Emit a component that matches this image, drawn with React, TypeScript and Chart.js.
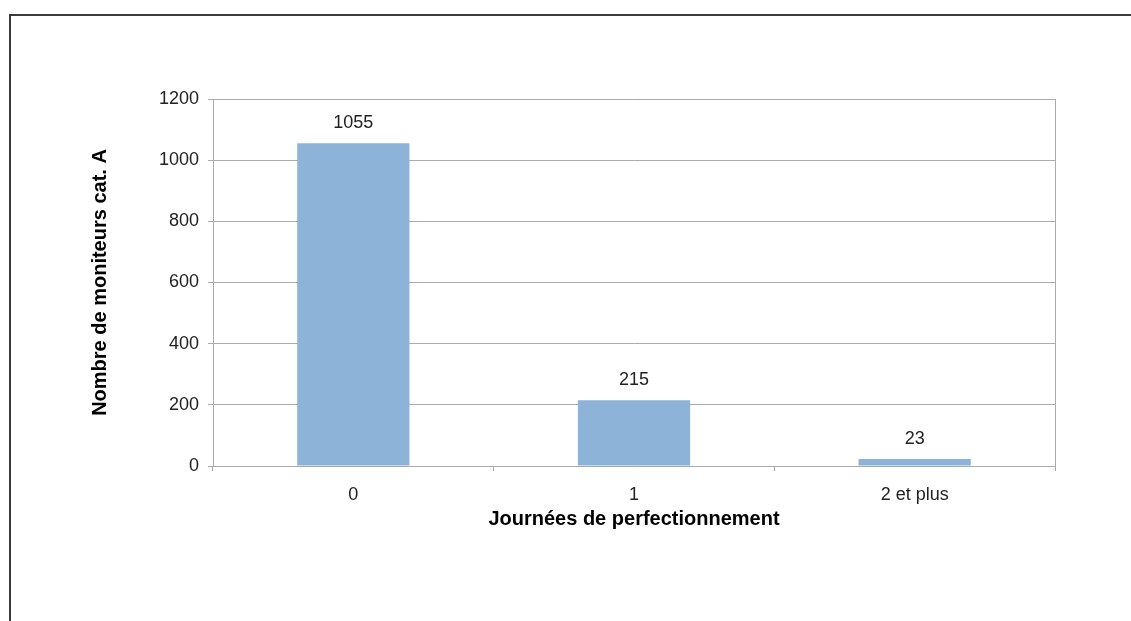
import React, { useEffect, useRef } from "react";
import { Chart, registerables } from "chart.js";

Chart.register(...registerables);

const categories: string[] = ["0", "1", "2 et plus"];
const values: number[] = [1055, 215, 23];
const yTicks: number[] = [0, 200, 400, 600, 800, 1000, 1200];
const yTitle = "Nombre de moniteurs cat. A";
const xTitle = "Journées de perfectionnement";

const FONT = "'Liberation Sans', Arial, Helvetica, sans-serif";
const GRID = "#ababab";
const TEXT = "#222222";
const TICK_SIZE = 18;
const TITLE_SIZE = 20;

const extrasPlugin = {
  id: "extras",
  afterDatasetsDraw(chart: any) {
    const { ctx, chartArea } = chart;
    ctx.save();
    ctx.strokeStyle = GRID;
    ctx.lineWidth = 1;
    ctx.beginPath();
    ctx.moveTo(chartArea.right + 0.5, chartArea.top);
    ctx.lineTo(chartArea.right + 0.5, chartArea.bottom + 5);
    ctx.stroke();
    const meta = chart.getDatasetMeta(0);
    ctx.fillStyle = TEXT;
    ctx.font = `${TICK_SIZE}px ${FONT}`;
    ctx.textAlign = "center";
    ctx.textBaseline = "alphabetic";
    meta.data.forEach((bar: any, i: number) => {
      ctx.fillText(String(values[i]), bar.x, bar.y - 15);
    });
    ctx.restore();
  },
};

export default function App() {
  const ref = useRef<HTMLCanvasElement | null>(null);

  useEffect(() => {
    if (!ref.current) return;
    const chart = new Chart(ref.current, {
      type: "bar",
      data: {
        labels: categories,
        datasets: [
          {
            data: values,
            backgroundColor: "#8db3d9",
            borderWidth: 0,
            barPercentage: 0.4,
            categoryPercentage: 1,
          },
        ],
      },
      options: {
        responsive: false,
        animation: false,
        layout: { padding: { left: 0, top: 99, right: 76, bottom: 0 } },
        plugins: {
          legend: { display: false },
          tooltip: { enabled: false },
        },
        scales: {
          x: {
            grid: {
              drawOnChartArea: false,
              drawTicks: true,
              tickLength: 5,
              color: GRID,
              offset: true,
            },
            border: { display: true, color: GRID },
            ticks: {
              color: TEXT,
              font: { family: FONT, size: TICK_SIZE },
              padding: 13,
            },
            title: {
              display: true,
              text: xTitle,
              color: "#000",
              font: { family: FONT, size: TITLE_SIZE, weight: "bold" },
              padding: { top: 0, bottom: 90 },
            },
            afterFit(scale: any) {
              scale.height = 155;
            },
          },
          y: {
            min: 0,
            max: 1200,
            afterBuildTicks(scale: any) {
              scale.ticks = yTicks.map((v) => ({ value: v }));
            },
            grid: {
              color: GRID,
              tickLength: 5,
              drawTicks: true,
            },
            border: { display: true, color: GRID },
            ticks: {
              color: TEXT,
              font: { family: FONT, size: TICK_SIZE },
              padding: 9,
              callback: (v: any) => String(v),
            },
            title: {
              display: true,
              text: yTitle,
              color: "#000",
              font: { family: FONT, size: TITLE_SIZE, weight: "bold" },
              padding: { top: 88, bottom: 0 },
            },
            afterFit(scale: any) {
              scale.width = 213;
            },
          },
        },
      },
      plugins: [extrasPlugin],
    });
    return () => chart.destroy();
  }, []);

  return (
    <div
      style={{
        position: "absolute",
        left: 0,
        top: 0,
        width: 1131,
        height: 621,
        overflow: "hidden",
        background: "#fff",
      }}
    >
      <div
        style={{
          position: "absolute",
          left: 9,
          top: 14,
          width: 1400,
          height: 900,
          border: "2px solid #3a3a3a",
        }}
      />
      <canvas
        ref={ref}
        width={1131}
        height={621}
        style={{ position: "absolute", left: 0, top: 0, width: 1131, height: 621 }}
      />
    </div>
  );
}
